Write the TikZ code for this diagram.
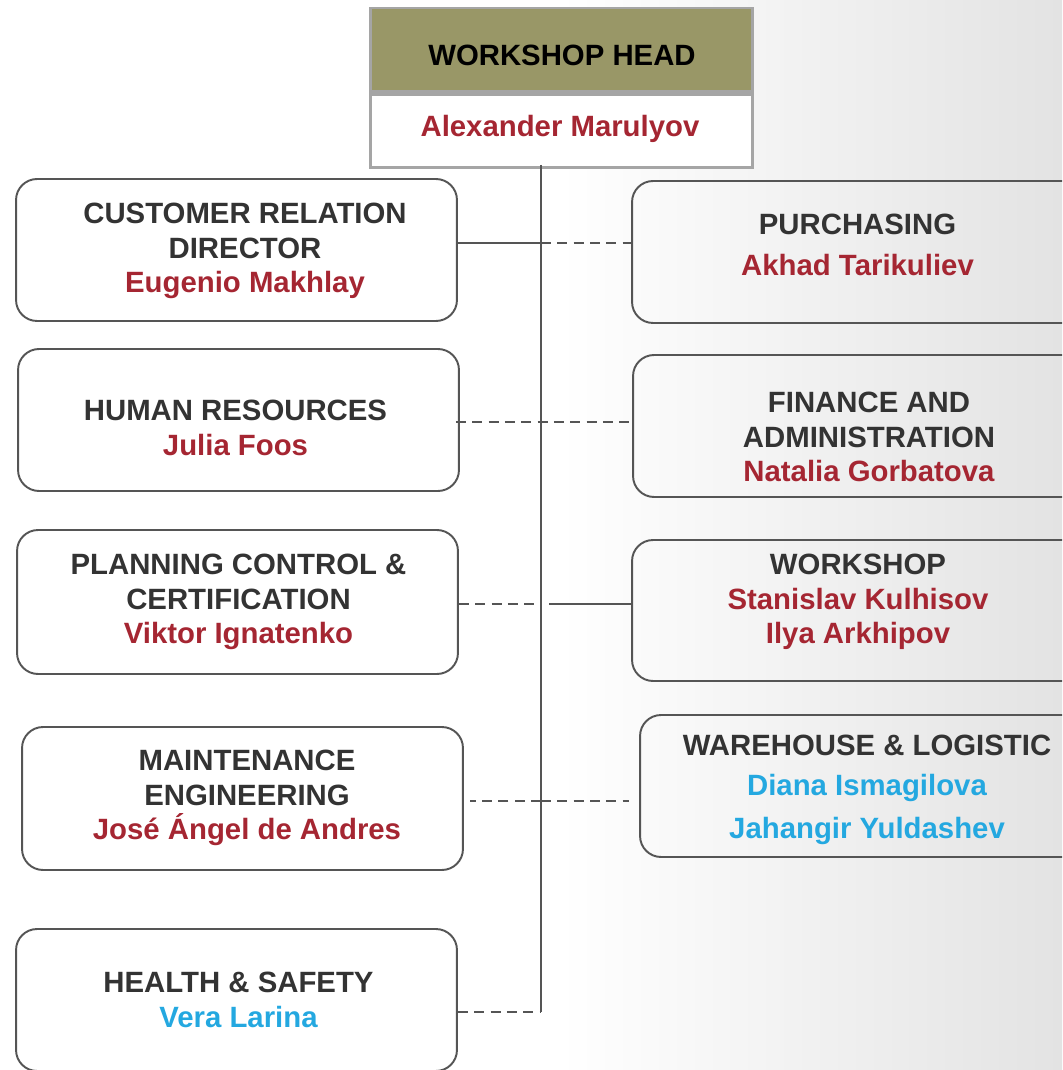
\documentclass[tikz,border=0pt]{standalone}
\usepackage{fontspec}
\setmainfont{Liberation Sans}
\usetikzlibrary{positioning,calc}

\definecolor{headolive}{RGB}{153,151,103}
\definecolor{headframe}{RGB}{165,165,165}
\definecolor{namered}{RGB}{165,38,50}
\definecolor{nameblue}{RGB}{36,168,224}
\definecolor{linegray}{RGB}{85,85,85}
\definecolor{titlegray}{RGB}{51,51,51}

\newcommand{\rname}[1]{\textcolor{namered}{#1}}
\newcommand{\bname}[1]{\textcolor{nameblue}{#1}}

\begin{document}
\begin{tikzpicture}[
    x=0.02cm, y=-0.02cm,
    % --- boxes ---
    unit box/.style={draw=linegray, line width=1.1pt, rounded corners=0.42cm,
        minimum width=8.82cm, minimum height=2.84cm, inner sep=0pt},
    head box/.style={draw=headframe, line width=1.7pt, minimum width=7.66cm, inner sep=0pt},
    % --- texts ---
    unit text/.style={font=\bfseries\fontsize{16.7}{19.8}\selectfont, text=titlegray,
        align=center, inner sep=0pt},
    % --- connectors ---
    solid link/.style={draw=linegray, line width=1.1pt},
    dashed link/.style={draw=linegray, line width=1.3pt, dash pattern=on 5.7pt off 3.6pt}
]
    \useasboundingbox (0,0) rectangle (1062,1070);
    \clip (0,0) rectangle (1062,1070);

    % --- background (faded photo on the right) ---
    \shade[left color=white, right color=gray!22] (560,0) rectangle (1062,1070);

    % --- 1. workshop head ---
    \node[head box, fill=headolive, minimum height=1.68cm] (head) at (561.5,50) {};
    \node[head box, fill=white, minimum height=1.46cm, below=0pt of head] (headname) {};
    \node[unit text, text=black] (head-txt) at (562,55) {WORKSHOP HEAD};
    \node[unit text] (headname-txt) at (560,129) {\rname{Alexander Marulyov}};

    % --- 2. left column ---
    \node[unit box] (cust) at (236.5,250) {};
    \node[unit text] (cust-txt) at (245,251) {CUSTOMER RELATION\\DIRECTOR\\\rname{Eugenio Makhlay}};

    \node[unit box] (hr) at (238.5,420) {};
    \node[unit text] (hr-txt) at (235.5,428) {HUMAN RESOURCES\\\rname{Julia Foos}};

    \node[unit box, minimum height=2.88cm] (plan) at (237.5,602) {};
    \node[unit text] (plan-txt) at (238.5,602) {PLANNING CONTROL \&\\CERTIFICATION\\\rname{Viktor Ignatenko}};

    \node[unit box, minimum height=2.86cm] (maint) at (242.5,798.5) {};
    \node[unit text] (maint-txt) at (247,798) {MAINTENANCE\\ENGINEERING\\\rname{José Ángel de Andres}};

    \node[unit box] (health) at (236.5,1000) {};
    \node[unit text] (health-txt) at (238.5,1000) {HEALTH \& SAFETY\\\bname{Vera Larina}};

    % --- 3. right column (runs off the page) ---
    \node[unit box, minimum width=9.02cm] (purch) at (857.5,252) {};
    \node[unit text] (purch-txt) at (857.5,245) {PURCHASING\\[3.4pt]\rname{Akhad Tarikuliev}};

    \node[unit box, minimum width=9.44cm] (fin) at (869,426) {};
    \node[unit text] (fin-txt) at (869,437) {FINANCE AND\\ADMINISTRATION\\\rname{Natalia Gorbatova}};

    \node[unit box, minimum width=9.04cm, minimum height=2.82cm] (work) at (858,610.5) {};
    \node[unit text] (work-txt) at (858,602) {WORKSHOP\\\rname{Stanislav Kulhisov}\\\rname{Ilya Arkhipov}};

    \node[unit box, minimum width=9.08cm] (store) at (867,786) {};
    \node[unit text] (store-txt) at (867,790) {WAREHOUSE \& LOGISTIC\\[2.8pt]\bname{Diana Ismagilova}\\[5pt]\bname{Jahangir Yuldashev}};

    % --- 4. trunk and branches ---
    \coordinate (trunk top) at (541,165);
    \coordinate (trunk bottom) at (541,1012);
    \coordinate (j1) at (541,243);
    \coordinate (j2) at (541,422);
    \coordinate (j3) at (541,604);
    \coordinate (j4) at (541,801);

    \draw[solid link] (trunk top) -- (trunk bottom);

    % row 1: solid to the left, dashed to the right
    \draw[solid link] (cust.east |- j1) -- (j1);
    \draw[dashed link] (j1) -- (purch.west |- j1);
    % row 2: one dashed line across
    \draw[dashed link] ($(hr.east |- j2)+(-4,0)$) -- (fin.west |- j2);
    % row 3: dashed to the left, solid to the right
    \draw[dashed link] (plan.east |- j3) -- (j3);
    \draw[solid link, shorten <=0.16cm] (j3) -- (work.west |- j3);
    % row 4: dashed on both sides
    \draw[dashed link, shorten >=0.12cm] (j4) -- (maint.east |- j4);
    \draw[dashed link, shorten >=0.2cm] (j4) -- (store.west |- j4);
    % row 5
    \draw[dashed link] (health.east |- trunk bottom) -- (trunk bottom);

\end{tikzpicture}
\end{document}
